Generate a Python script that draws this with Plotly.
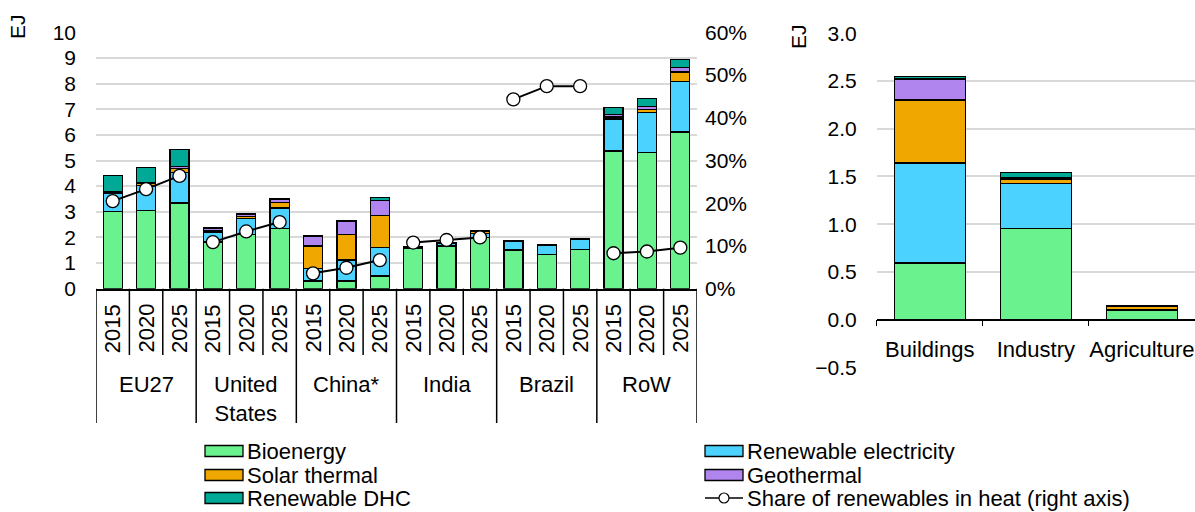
import plotly.graph_objects as go

# --- data -------------------------------------------------------------
regions = ["EU27", "United<br>States", "China*", "India", "Brazil", "RoW"]
years = ["2015", "2020", "2025"]

bioenergy = [3.00, 3.06, 3.34, 1.82, 2.11, 2.36, 0.30, 0.30, 0.50,
             1.56, 1.66, 2.00, 1.51, 1.34, 1.54, 5.37, 5.30, 6.11]
ren_elec = [0.72, 0.96, 1.18, 0.39, 0.62, 0.79, 0.50, 0.82, 1.11,
            0.04, 0.10, 0.16, 0.33, 0.37, 0.39, 1.25, 1.56, 1.98]
solar_thermal = [0.05, 0.08, 0.16, 0.07, 0.08, 0.22, 0.87, 1.00, 1.25,
                 0.04, 0.03, 0.08, 0.02, 0.02, 0.03, 0.08, 0.14, 0.36]
geothermal = [0.03, 0.02, 0.08, 0.08, 0.09, 0.13, 0.36, 0.51, 0.59,
              0.01, 0.01, 0.03, 0.00, 0.00, 0.00, 0.09, 0.11, 0.17]
ren_dhc = [0.61, 0.60, 0.66, 0.02, 0.02, 0.02, 0.03, 0.04, 0.10,
           0.00, 0.00, 0.00, 0.00, 0.00, 0.00, 0.27, 0.30, 0.33]
share = [0.205, 0.233, 0.264, 0.109, 0.134, 0.156, 0.036, 0.049, 0.067,
         0.108, 0.114, 0.120, 0.443, 0.474, 0.474, 0.083, 0.087, 0.096]

sectors = ["Buildings", "Industry", "Agriculture"]
sec_bioenergy = [0.595, 0.955, 0.10]
sec_ren_elec = [1.045, 0.475, 0.005]
sec_solar = [0.66, 0.045, 0.03]
sec_geo = [0.22, 0.01, 0.005]
sec_dhc = [0.03, 0.055, 0.01]

names = ["Bioenergy", "Renewable electricity", "Solar thermal", "Geothermal", "Renewable DHC"]
colors = ["#6af28f", "#4bd2ff", "#f0a800", "#b085ee", "#00a896"]
share_name = "Share of renewables in heat (right axis)"

W, H = 1195, 512
FONT = "Liberation Sans, Arial, sans-serif"
TICK = 21
LBL = 22


def px(x):
    return x / W


def py(y):
    return 1 - y / H


fig = go.Figure()

# --- left chart: stacked bars by region/year ---------------------------
n = len(regions) * len(years)
xs = list(range(n))
for name, col, vals in zip(names, colors, [bioenergy, ren_elec, solar_thermal, geothermal, ren_dhc]):
    fig.add_trace(go.Bar(x=xs, y=vals, name=name, marker=dict(color=col, line=dict(color="black", width=1.3)),
                         width=0.57, xaxis="x", yaxis="y", showlegend=False))

# share line, broken between regions
sx, sy = [], []
for g in range(len(regions)):
    for k in range(len(years)):
        i = g * len(years) + k
        sx.append(i)
        sy.append(share[i])
    sx.append(None)
    sy.append(None)
fig.add_trace(go.Scatter(x=sx, y=sy, name=share_name, mode="lines+markers", connectgaps=False,
                         line=dict(color="black", width=2),
                         marker=dict(size=13, color="white", line=dict(color="black", width=1.3)),
                         xaxis="x", yaxis="y2", showlegend=False))

# --- right chart: stacked bars by sector -------------------------------
for name, col, vals in zip(names, colors, [sec_bioenergy, sec_ren_elec, sec_solar, sec_geo, sec_dhc]):
    fig.add_trace(go.Bar(x=sectors, y=vals, name=name, marker=dict(color=col, line=dict(color="black", width=1.3)),
                         width=0.67, xaxis="x3", yaxis="y3", showlegend=False))

left_dom = [py(288.7), py(32.3)]
right_dom = [py(367.4), py(33.3)]
r_lo, r_hi = -0.5, 3.0
zero_pos = right_dom[0] + (0 - r_lo) / (r_hi - r_lo) * (right_dom[1] - right_dom[0])

fig.update_layout(
    width=W, height=H, margin=dict(l=0, r=0, t=0, b=0),
    template="none", paper_bgcolor="white", plot_bgcolor="white",
    font=dict(family=FONT, size=TICK, color="black"),
    barmode="stack", showlegend=False,
    xaxis=dict(domain=[px(96), px(697)], range=[-0.5, n - 0.5], showticklabels=False, ticks="",
               showgrid=False, zeroline=False, showline=True, linecolor="black", linewidth=1.5,
               anchor="y", automargin=False),
    yaxis=dict(domain=left_dom, range=[0, 10], dtick=1, showgrid=True, gridcolor="#d9d9d9", gridwidth=1.5,
               zeroline=False, ticks="", ticklabelstandoff=19, automargin=False, anchor="x"),
    yaxis2=dict(domain=left_dom, range=[0, 0.6], dtick=0.1, tickformat=".0%", overlaying="y", side="right",
                showgrid=False, zeroline=False, ticks="", ticklabelstandoff=7, automargin=False, anchor="x"),
    xaxis3=dict(domain=[px(876.7), 1.0], anchor="free", position=zero_pos, type="category",
                tickson="boundaries", ticks="outside", ticklen=6, tickcolor="black", tickwidth=1.3,
                showline=True, linecolor="black", linewidth=1.5, showgrid=False, zeroline=False,
                tickangle=0, ticklabelstandoff=10, automargin=False, tickfont=dict(size=LBL)),
    yaxis3=dict(domain=right_dom, range=[r_lo, r_hi], dtick=0.5, tickformat=".1f", showgrid=True,
                gridcolor="#d9d9d9", gridwidth=1.5, zeroline=False, ticks="", ticklabelstandoff=19,
                automargin=False, anchor="x3"),
)

# --- category table under left chart -----------------------------------
shapes = []
annotations = []
for b in range(n + 1):
    bottom = 423 if b % len(years) == 0 else 355
    shapes.append(dict(type="line", xref="x", yref="paper", x0=b - 0.5, x1=b - 0.5,
                       y0=py(288.7), y1=py(bottom), line=dict(color="black", width=1.5)))
for i in xs:
    annotations.append(dict(x=i, y=py(328.5), xref="x", yref="paper", text=years[i % len(years)],
                            textangle=-90, xanchor="center", yanchor="middle", showarrow=False,
                            font=dict(size=LBL)))
for g, reg in enumerate(regions):
    annotations.append(dict(x=g * len(years) + 1, y=py(370), xref="x", yref="paper", text=reg,
                            xanchor="center", yanchor="top", showarrow=False, font=dict(size=LBL)))

# axis titles
for ex, ey in [(17, 27), (798, 37)]:
    annotations.append(dict(x=px(ex), y=py(ey), xref="paper", yref="paper", text="EJ", textangle=-90,
                            xanchor="center", yanchor="middle", showarrow=False, font=dict(size=TICK)))

# --- legend ------------------------------------------------------------
leg_cols = [205, 705]
leg_rows = [451, 475, 498]
for k, (name, col) in enumerate(zip(names, colors)):
    cx = leg_cols[k % 2]
    cy = leg_rows[k // 2]
    shapes.append(dict(type="rect", xref="paper", yref="paper", x0=px(cx), x1=px(cx + 38),
                       y0=py(cy + 5.5), y1=py(cy - 5.5), fillcolor=col, line=dict(color="black", width=1.3)))
    annotations.append(dict(x=px(cx + 40), y=py(cy), xref="paper", yref="paper", text=name,
                            xanchor="left", yanchor="middle", showarrow=False, font=dict(size=LBL)))
cx, cy = leg_cols[1], leg_rows[2]
shapes.append(dict(type="line", xref="paper", yref="paper", x0=px(cx), x1=px(cx + 38), y0=py(cy), y1=py(cy),
                   line=dict(color="black", width=1.5)))
shapes.append(dict(type="circle", xref="paper", yref="paper", x0=px(cx + 14), x1=px(cx + 24),
                   y0=py(cy + 5), y1=py(cy - 5), fillcolor="white", line=dict(color="black", width=1.2)))
annotations.append(dict(x=px(cx + 40), y=py(cy), xref="paper", yref="paper", text=share_name,
                        xanchor="left", yanchor="middle", showarrow=False, font=dict(size=LBL)))

fig.update_layout(shapes=shapes, annotations=annotations)
fig.write_html("out.html", config={"displayModeBar": False},
               post_script="document.body.style.margin='0';")
